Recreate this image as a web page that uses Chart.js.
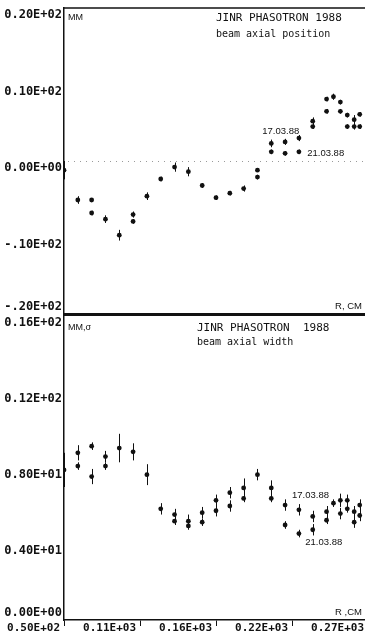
<!DOCTYPE html>
<html>
<head>
<meta charset="utf-8">
<script src="https://cdn.jsdelivr.net/npm/chart.js@4.4.1/dist/chart.umd.min.js"></script>
<style>
    html, body { margin: 0; padding: 0; background: #fff; }
    #sheet { position: relative; width: 365px; height: 641px; overflow: hidden; background: #fff; }
    #sheet canvas { position: absolute; left: 0; top: 0; }
</style>
</head>
<body>
<div id="sheet">
    <canvas id="chart-position" width="380" height="641" style="width:380px;height:641px"></canvas>
    <canvas id="chart-width" width="380" height="641" style="width:380px;height:641px"></canvas>
</div>
<script>
    // radius of the probe, cm
    const radiusCm = [50, 60, 70, 80, 90, 100, 110, 120, 130, 140, 150, 160, 170, 180, 190, 200, 210, 220, 230, 240, 245, 250, 255, 260, 264];

    // beam axial position, mm (17.03.88 / 21.03.88)
    const posMar17 = [-1.2, -5.1, -5.1, -7.6, -9.7, -7.0, -4.6, -2.35, -0.8, -1.4, -3.2, -4.8, -4.2, -3.6, -1.2, 2.3, 2.5, 3.0, 5.2, 8.1, 8.4, 7.7, 6.0, 5.4, 6.1];
    const posMar17Err = [1.2, 0.5, 0.2, 0.5, 0.7, 0.4, 0.5, 0.3, 0.6, 0.6, 0.3, 0.3, 0.3, 0.4, 0.2, 0.5, 0.4, 0.4, 0.5, 0.3, 0.4, 0.3, 0.3, 0.6, 0.3];
    const posMar21 = [null, null, -6.8, null, null, -7.9, null, null, null, null, null, null, null, null, -2.1, 1.2, 1.0, 1.2, 4.5, 6.5, null, 6.5, 4.5, 4.5, 4.5];
    const posMar21Err = [0, 0, 0.3, 0, 0, 0.3, 0, 0, 0, 0, 0, 0, 0, 0, 0.3, 0.3, 0.3, 0.3, 0.3, 0.3, 0, 0.3, 0.3, 0.4, 0.3];

    // beam axial width (sigma), mm
    const widthMar17 = [7.9, 8.8, 9.15, 8.6, 9.05, 8.85, 7.65, 5.85, 5.55, 5.2, 5.65, 6.3, 6.7, 6.95, 7.65, 6.95, 6.05, 5.8, 5.45, 5.7, 6.15, 6.3, 6.3, 5.7, 6.05];
    const widthMar17Err = [0.9, 0.4, 0.2, 0.3, 0.75, 0.45, 0.55, 0.3, 0.3, 0.35, 0.3, 0.3, 0.3, 0.5, 0.3, 0.4, 0.3, 0.3, 0.3, 0.3, 0.2, 0.35, 0.3, 0.3, 0.3];
    const widthMar21 = [null, 8.1, 7.55, 8.1, null, null, null, null, 5.2, 4.95, 5.15, 5.75, 6.0, 6.4, null, 6.4, 5.0, 4.55, 4.75, 5.25, null, 5.6, 5.85, 5.15, 5.5];
    const widthMar21Err = [0, 0.2, 0.4, 0.2, 0, 0, 0, 0, 0.2, 0.2, 0.2, 0.3, 0.3, 0.2, 0, 0.2, 0.2, 0.2, 0.3, 0.2, 0, 0.3, 0.2, 0.3, 0.3];

    // axis ticks as printed by the plotter
    const radiusTicks = [50, 105, 160, 215, 270];
    const radiusTickLabels = ['0.50E+02', '0.11E+03', '0.16E+03', '0.22E+03', '0.27E+03'];
    const posTicks = [20, 10, 0, -10, -20];
    const posTickLabels = ['0.20E+02', '0.10E+02', '0.00E+00', '-.10E+02', '-.20E+02'];
    const widthTicks = [16, 12, 8, 4, 0];
    const widthTickLabels = ['0.16E+02', '0.12E+02', '0.80E+01', '0.40E+01', '0.00E+00'];

    const INK = '#111';
    const MONO = '"DejaVu Sans Mono", "Liberation Mono", monospace';
    const SANS = '"Liberation Sans", Arial, sans-serif';

    const toPoints = (values) => radiusCm.map((r, i) => ({ x: r, y: values[i] })).filter(p => p.y !== null);

    const makeSet = (label, values, errors) => ({
        label,
        data: toPoints(values),
        errors: radiusCm.map((r, i) => ({ x: r, y: values[i], e: errors[i] })).filter(p => p.y !== null),
        backgroundColor: INK,
        borderColor: INK,
        pointRadius: 2.4,
        pointBorderWidth: 0,
        showLine: false,
    });

    // vertical error bars, drawn from the dataset's own values through the scales
    const errorBars = {
        id: 'errorBars',
        beforeDatasetsDraw(chart) {
            const { ctx, scales: { x, y } } = chart;
            ctx.save();
            ctx.strokeStyle = INK;
            ctx.lineWidth = 1;
            chart.data.datasets.forEach((ds) => {
                (ds.errors || []).forEach(({ x: r, y: v, e }) => {
                    if (!e) return;
                    const px = Math.round(x.getPixelForValue(r)) + 0.5;
                    ctx.beginPath();
                    ctx.moveTo(px, y.getPixelForValue(v - e));
                    ctx.lineTo(px, y.getPixelForValue(v + e));
                    ctx.stroke();
                });
            });
            ctx.restore();
        }
    };

    // y tick labels sit just under their tick; the lowest one is lifted above it
    const sideLabels = {
        id: 'sideLabels',
        afterDraw(chart, args, opts) {
            const { ctx, scales: { y } } = chart;
            ctx.save();
            ctx.fillStyle = INK;
            ctx.font = 'bold 12px ' + MONO;
            ctx.textAlign = 'right';
            ctx.textBaseline = 'middle';
            const last = opts.values.length - 1;
            opts.values.forEach((v, i) => {
                const py = y.getPixelForValue(v);
                ctx.fillText(opts.labels[i], y.right - 2, py + (i === last ? -7 : 7));
            });
            ctx.restore();
        }
    };

    // captions, plot frame and date notes
    const panelText = {
        id: 'panelText',
        beforeDatasetsDraw(chart, args, opts) {
            const { ctx, chartArea, scales: { x, y } } = chart;
            ctx.save();
            if (opts.frameTop) {
                ctx.strokeStyle = INK;
                ctx.lineWidth = 1.5;
                ctx.beginPath();
                ctx.moveTo(chartArea.left, chartArea.top);
                ctx.lineTo(chartArea.right, chartArea.top);
                ctx.stroke();
            }
            if (opts.zeroLine) {
                const py = Math.round(y.getPixelForValue(0)) + 0.5;
                ctx.strokeStyle = '#9a9a9a';
                ctx.lineWidth = 1;
                ctx.setLineDash([1, 5]);
                ctx.beginPath();
                ctx.moveTo(chartArea.left + 4, py);
                ctx.lineTo(chartArea.right, py);
                ctx.stroke();
                ctx.setLineDash([]);
            }
            ctx.fillStyle = INK;
            ctx.textBaseline = 'middle';
            (opts.captions || []).forEach((c) => {
                ctx.font = c.font;
                ctx.textAlign = c.align || 'left';
                ctx.fillText(c.text, c.left, c.top);
            });
            ctx.font = '9.5px ' + SANS;
            ctx.textAlign = 'left';
            (opts.notes || []).forEach((n) => {
                ctx.fillText(n.text, x.getPixelForValue(n.r), y.getPixelForValue(n.v));
            });
            ctx.restore();
        }
    };

    const baseOptions = (yMin, yMax, padTop, xHeight) => ({
        responsive: false,
        animation: false,
        devicePixelRatio: 1,
        layout: { padding: { top: padTop, right: 12, bottom: 0, left: 0 } },
        scales: {
            x: {
                type: 'linear',
                min: 50,
                max: 270,
                afterFit: (s) => { s.height = xHeight; },
                grid: { display: false, drawTicks: false },
                ticks: { display: false },
                border: { color: INK, width: 1.5 },
            },
            y: {
                min: yMin,
                max: yMax,
                afterFit: (s) => { s.width = 64; },
                grid: { display: false, drawTicks: false },
                ticks: { display: false },
                border: { color: INK, width: 1.5 },
            }
        }
    });

    // upper panel: axial position
    const posOptions = baseOptions(-20, 20, 8, 327);
    posOptions.scales.x.border.width = 3;
    posOptions.plugins = {
        legend: { display: false },
        tooltip: { enabled: false },
        sideLabels: { values: posTicks, labels: posTickLabels },
        panelText: {
            frameTop: true,
            zeroLine: true,
            captions: [
                { text: 'MM', left: 68, top: 18, font: '9px ' + SANS },
                { text: 'JINR PHASOTRON 1988', left: 216, top: 18, font: '11px ' + MONO },
                { text: 'beam axial position', left: 216, top: 34, font: '10px ' + MONO },
                { text: 'R, CM', left: 362, top: 306, font: '9.5px ' + SANS, align: 'right' },
            ],
            notes: [
                { text: '17.03.88', r: 193.5, v: 3.9 },
                { text: '21.03.88', r: 226, v: 1.05 },
            ],
        },
    };

    new Chart(document.getElementById('chart-position'), {
        type: 'scatter',
        data: {
            datasets: [
                makeSet('17.03.88', posMar17, posMar17Err),
                makeSet('21.03.88', posMar21, posMar21Err),
            ]
        },
        options: posOptions,
        plugins: [errorBars, sideLabels, panelText],
    });

    // lower panel: axial width
    const widthOptions = baseOptions(0, 16, 316, 21);
    widthOptions.scales.x.afterBuildTicks = (s) => { s.ticks = radiusTicks.map(v => ({ value: v })); };
    widthOptions.scales.x.grid = { display: true, drawOnChartArea: false, drawTicks: true, tickLength: 6, color: INK, tickWidth: 1 };
    widthOptions.scales.x.ticks = {
        display: true,
        color: INK,
        font: { family: MONO, size: 11, weight: 'bold' },
        align: 'end',
        labelOffset: -4,
        padding: -4,
        maxRotation: 0,
        autoSkip: false,
        callback: (v, i) => radiusTickLabels[i],
    };
    widthOptions.plugins = {
        legend: { display: false },
        tooltip: { enabled: false },
        sideLabels: { values: widthTicks, labels: widthTickLabels },
        panelText: {
            captions: [
                { text: 'MM,σ', left: 68, top: 328, font: '9px ' + SANS },
                { text: 'JINR PHASOTRON  1988', left: 197, top: 328, font: '11px ' + MONO },
                { text: 'beam axial width', left: 197, top: 342, font: '10px ' + MONO },
                { text: 'R ,CM', left: 362, top: 612, font: '9.5px ' + SANS, align: 'right' },
            ],
            notes: [
                { text: '17.03.88', r: 215, v: 6.58 },
                { text: '21.03.88', r: 224.6, v: 4.1 },
            ],
        },
    };

    new Chart(document.getElementById('chart-width'), {
        type: 'scatter',
        data: {
            datasets: [
                makeSet('17.03.88', widthMar17, widthMar17Err),
                makeSet('21.03.88', widthMar21, widthMar21Err),
            ]
        },
        options: widthOptions,
        plugins: [errorBars, sideLabels, panelText],
    });
</script>
</body>
</html>
